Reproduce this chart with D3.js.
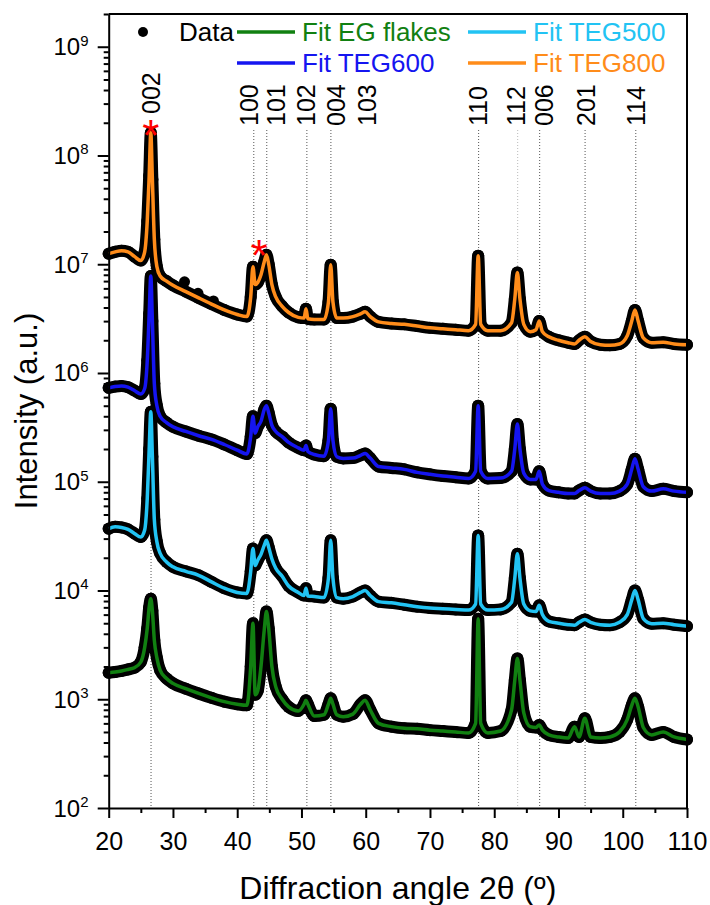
<!DOCTYPE html>
<html><head><meta charset="utf-8">
<script src="https://cdn.jsdelivr.net/npm/d3@7"></script>
<style>body{margin:0;background:#fff}svg{display:block;font-family:Arial,"Liberation Sans",sans-serif}</style>
</head><body><svg id="c" width="710" height="905"></svg>
<script>
// ---- data ----
const angles = [20,21,22,23,24,25,25.6,26.0,26.3,26.55,
  26.8,27.1,27.5,28,29,30,32,34,36,38,
  40,41.5,42.1,42.45,42.8,43.2,43.7,44.2,44.55,44.9,
  45.4,46,47,48,49.5,50.4,50.7,51.0,52,53.5,
  54.2,54.55,54.9,55.5,56.5,58,59.2,59.9,60.7,62,
  64,66,68,70,72,74,76,77.1,77.5,77.9,
  79,81,82.7,83.2,83.6,84.0,84.6,85.6,86.5,87.0,
  87.5,88.5,90,91.5,92.5,93.2,94.1,95,96.5,98,
  99.5,100.7,101.4,101.9,102.4,103.2,104.5,106.3,108,110];

const teg800 = [1.25e7,1.30e7,1.33e7,1.30e7,1.18e7,1.08e7,1.3e7,2.5e7,6.5e7,1.62e8,
  6.0e7,1.7e7,9.5e6,7.8e6,7.0e6,6.4e6,5.6e6,4.9e6,4.3e6,3.8e6,
  3.45e6,3.3e6,5.0e6,9.5e6,6.5e6,6.8e6,8.0e6,1.05e7,1.22e7,1.0e7,
  6.5e6,5.0e6,4.1e6,3.6e6,3.25e6,3.2e6,3.9e6,3.15e6,3.1e6,3.1e6,
  4.5e6,9.9e6,4.5e6,3.2e6,3.2e6,3.3e6,3.5e6,3.65e6,3.3e6,2.95e6,
  2.85e6,2.8e6,2.7e6,2.6e6,2.55e6,2.5e6,2.45e6,2.8e6,1.2e7,2.8e6,
  2.45e6,2.45e6,2.9e6,4.8e6,8.4e6,4.8e6,2.8e6,2.4e6,2.5e6,3.0e6,
  2.4e6,2.15e6,2.0e6,1.9e6,1.85e6,2.0e6,2.15e6,1.95e6,1.82e6,1.8e6,
  1.85e6,2.2e6,3.0e6,3.8e6,3.0e6,2.1e6,1.9e6,1.92e6,1.85e6,1.82e6];

const teg600 = [7.3e5,7.5e5,7.6e5,7.4e5,6.9e5,6.4e5,7.2e5,1.3e6,3.5e6,7.8e6,
  3.0e6,8.0e5,5.0e5,4.0e5,3.5e5,3.2e5,2.9e5,2.65e5,2.45e5,2.2e5,
  1.95e5,1.8e5,2.6e5,4.0e5,2.8e5,3.2e5,3.6e5,4.6e5,5.0e5,4.3e5,
  3.3e5,2.9e5,2.6e5,2.3e5,2.05e5,1.95e5,2.15e5,1.9e5,1.78e5,1.72e5,
  2.4e5,4.7e5,2.4e5,1.7e5,1.64e5,1.65e5,1.75e5,1.82e5,1.65e5,1.38e5,
  1.34e5,1.3e5,1.22e5,1.17e5,1.13e5,1.1e5,1.07e5,1.25e5,5.0e5,1.25e5,
  1.07e5,1.08e5,1.25e5,2.0e5,3.4e5,2.0e5,1.2e5,1.05e5,1.05e5,1.25e5,
  9.5e4,8.3e4,8.0e4,7.8e4,7.8e4,8.3e4,8.8e4,8.2e4,7.8e4,7.8e4,
  8.2e4,9.5e4,1.3e5,1.63e5,1.3e5,9.0e4,8.2e4,8.6e4,8.2e4,8.0e4];

const teg500 = [3.7e4,3.85e4,3.8e4,3.65e4,3.35e4,3.1e4,3.6e4,7.0e4,2.0e5,4.4e5,
  1.7e5,4.5e4,2.8e4,2.2e4,1.83e4,1.65e4,1.5e4,1.38e4,1.2e4,1.05e4,
  9.6e3,9.4e3,1.5e4,2.43e4,1.7e4,1.9e4,2.15e4,2.6e4,2.9e4,2.5e4,
  1.95e4,1.6e4,1.35e4,1.1e4,9.6e3,9.0e3,1.05e4,8.9e3,8.8e3,8.6e3,
  1.3e4,2.9e4,1.3e4,8.6e3,8.4e3,8.8e3,9.6e3,1.0e4,9.0e3,7.9e3,
  7.7e3,7.4e3,7.1e3,6.9e3,6.8e3,6.7e3,6.6e3,7.5e3,3.2e4,7.5e3,
  6.6e3,6.7e3,7.8e3,1.3e4,2.18e4,1.3e4,7.5e3,6.5e3,6.4e3,7.3e3,
  6.0e3,5.2e3,5.0e3,4.85e3,4.8e3,5.1e3,5.4e3,5.1e3,4.85e3,4.8e3,
  5.1e3,6.0e3,8.2e3,1.0e4,8.2e3,5.5e3,4.95e3,5.0e3,4.85e3,4.7e3];

const egFlakes = [1.75e3,1.78e3,1.82e3,1.88e3,1.95e3,2.2e3,3.0e3,4.5e3,7.0e3,8.4e3,
  6.5e3,3.5e3,2.4e3,1.85e3,1.55e3,1.4e3,1.25e3,1.13e3,1.03e3,9.5e2,
  9.0e2,8.8e2,2.0e3,5.0e3,1.1e3,1.2e3,2.0e3,4.3e3,6.4e3,4.5e3,
  2.0e3,1.3e3,1.0e3,8.5e2,7.8e2,9.0e2,9.8e2,9.0e2,7.0e2,7.2e2,
  9.0e2,1.02e3,9.0e2,7.2e2,6.9e2,7.3e2,9.0e2,9.8e2,8.0e2,6.0e2,
  5.6e2,5.4e2,5.35e2,5.2e2,5.1e2,5.0e2,4.9e2,6.0e2,5.5e3,6.0e2,
  4.9e2,5.1e2,8.0e2,1.5e3,2.37e3,1.5e3,7.5e2,5.6e2,5.5e2,5.8e2,
  5.2e2,4.7e2,4.5e2,4.4e2,5.6e2,4.5e2,6.7e2,4.5e2,4.4e2,4.5e2,
  5.0e2,6.5e2,8.8e2,1.02e3,8.5e2,5.5e2,4.7e2,5.0e2,4.5e2,4.27e2];

// scattered data points sticking out of the bands
const outlierAngles = [31.8, 33.9, 36.3];
const outlierValues = [6.9e6, 5.4e6, 4.6e6];

const seriesNames = ["Fit EG flakes","Fit TEG500","Fit TEG600","Fit TEG800"];
const xTicks = [20,30,40,50,60,70,80,90,100,110];
const xMinorTicks = [25,35,45,55,65,75,85,95,105];
const yTickExps = [2,3,4,5,6,7,8,9];
const hklLabels = ["002","100","101","102","004","103","110","112","006","201","114"];
const hklAngles = [26.59,42.58,44.6,50.84,54.58,60.2,77.57,83.65,87.07,94.14,102.03];
const hklLabelAngles = [26.62,41.85,46.0,50.73,55.45,60.23,77.45,83.44,87.8,94.27,102.13];
const hklHasLine = [true,true,true,true,true,false,true,true,true,true,true];
const starAngles = [26.55, 43.4];
const starValues = [1.87e8, 1.46e7];

// ---- drawing ----
const series = [egFlakes, teg500, teg600, teg800];
const colors = ["#118011","#22c3f3","#1515f0","#ff8c1a"];
const svg = d3.select("#c");
const m = {l:108.7, t:14, r:687, b:808};
const x = d3.scaleLinear().domain([20,110]).range([m.l,m.r]);
const y = d3.scaleLog().domain([100,2e9]).range([m.b,m.t]);

// hkl dotted guides
const gh = svg.append("g");
hklAngles.forEach((a,i)=>{
  if(hklHasLine[i]) gh.append("line").attr("x1",x(a)).attr("x2",x(a)).attr("y1",130).attr("y2",m.b)
    .attr("stroke", hklLabels[i]==="112" ? "#bbb" : "#555").attr("stroke-width",1).attr("stroke-dasharray","1,2");
  gh.append("text").attr("transform",`translate(${x(hklLabelAngles[i])},${hklLabels[i]==="002"?114:126}) rotate(-90)`)
    .attr("text-anchor","start").attr("dominant-baseline","central").attr("font-size",25).text(hklLabels[i]);
});

const line = d3.line().x((d,i)=>x(angles[i])).y(d=>y(d)).curve(d3.curveMonotoneX);

// data bands (black scatter)
const gd = svg.append("g");
[teg800, teg600, teg500, egFlakes].forEach(s=>{
  gd.append("path").attr("d",line(s)).attr("fill","none").attr("stroke","#000")
    .attr("stroke-width",12).attr("stroke-linejoin","round").attr("stroke-linecap","round");
  gd.selectAll(null).data(s).join("circle").attr("cx",(d,i)=>x(angles[i])).attr("cy",d=>y(d)).attr("r",6).attr("fill","#000");
});
gd.selectAll(null).data(outlierValues).join("circle").attr("cx",(d,i)=>x(outlierAngles[i])).attr("cy",d=>y(d)).attr("r",5.5).attr("fill","#000");

// fits
const gf = svg.append("g");
series.forEach((s,k)=>{
  gf.append("path").attr("d",line(s)).attr("fill","none").attr("stroke",colors[k])
    .attr("stroke-width",3.5).attr("stroke-linejoin","round");
});

// asterisks
starAngles.forEach((a,i)=>{
  svg.append("text").attr("x",x(a)).attr("y",y(starValues[i])+25).attr("text-anchor","middle")
    .attr("font-size",44).attr("fill","#ff0000").text("*");
});

// axes
const gx = svg.append("g").attr("transform",`translate(0,${m.b})`)
  .call(d3.axisBottom(x).tickValues(xTicks).tickSize(10).tickSizeOuter(0).tickPadding(14).tickFormat(d3.format("d")));
gx.selectAll("text").attr("font-size",25).attr("font-family","Arial, 'Liberation Sans', sans-serif");
const gxm = svg.append("g").attr("transform",`translate(0,${m.b})`)
  .call(d3.axisBottom(x).tickValues(xMinorTicks).tickSize(5).tickSizeOuter(0).tickFormat(""));
gxm.select(".domain").remove();

const minorY = [];
for(let e=2;e<=9;e++) for(let k=2;k<=9;k++){ const v=k*Math.pow(10,e); if(v<=2e9) minorY.push(v); }
const gy = svg.append("g").attr("transform",`translate(${m.l},0)`)
  .call(d3.axisLeft(y).tickValues(yTickExps.map(e=>Math.pow(10,e))).tickSize(11).tickSizeOuter(0).tickFormat(""));
const gym = svg.append("g").attr("transform",`translate(${m.l},0)`)
  .call(d3.axisLeft(y).tickValues(minorY).tickSize(5).tickSizeOuter(0).tickFormat(""));
gym.select(".domain").remove();
svg.selectAll(".tick line, .domain").attr("stroke","#000").attr("stroke-width",2);

// frame top/right
svg.append("path").attr("d",`M${m.l},${m.t}H${m.r}V${m.b}`).attr("fill","none").attr("stroke","#000").attr("stroke-width",2);

// y tick labels
yTickExps.forEach(e=>{
  const t = svg.append("text").attr("x",88.5).attr("y",y(Math.pow(10,e))+8.5).attr("text-anchor","end").attr("font-size",24);
  t.append("tspan").text("10");
  t.append("tspan").attr("font-size",15).attr("dy",-9.5).text(e);
});

// titles
svg.append("text").attr("x",(m.l+m.r)/2).attr("y",899).attr("text-anchor","middle").attr("font-size",32)
  .text("Diffraction angle 2θ (º)");
svg.append("text").attr("transform",`translate(37,${(m.t+m.b)/2}) rotate(-90)`).attr("text-anchor","middle")
  .attr("font-size",31).text("Intensity (a.u.)");

// legend
const lg = svg.append("g").attr("font-size",26);
lg.append("circle").attr("cx",143).attr("cy",32).attr("r",5).attr("fill","#000");
lg.append("text").attr("x",179).attr("y",41).text("Data");
const legPos = [[237,32],[468,32],[237,63],[468,63]];
seriesNames.forEach((n,k)=>{
  const [lx,ly] = legPos[k];
  lg.append("line").attr("x1",lx).attr("x2",lx+58).attr("y1",ly).attr("y2",ly).attr("stroke",colors[k]).attr("stroke-width",3.5);
  lg.append("text").attr("x",lx+65).attr("y",ly+9).attr("fill",colors[k]).text(n);
});
</script></body></html>
